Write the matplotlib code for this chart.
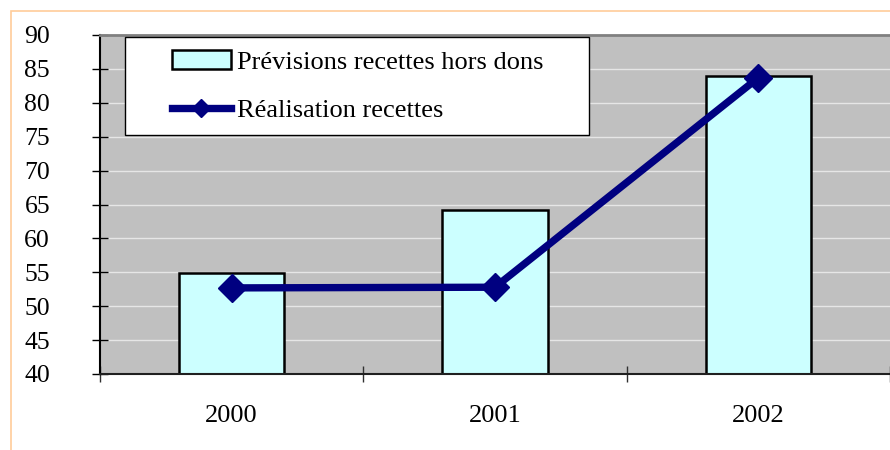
import matplotlib.pyplot as plt
from matplotlib.patches import Rectangle
from matplotlib.lines import Line2D

# Data.
years = ['2000', '2001', '2002']
previsions = [54.9, 64.2, 83.9]
realisation = [52.7, 52.8, 83.7]

plt.rcParams['font.family'] = ['Liberation Serif', 'DejaVu Serif']

fig = plt.figure(figsize=(8.9, 4.5), dpi=100)

# Light orange frame round the chart (runs off the right and bottom).
fig.patches.append(Rectangle((11/890, -0.2), 1.2, 1.2 - 11/450,
                             transform=fig.transFigure, fill=False,
                             edgecolor='#FFCC99', lw=1.2, zorder=0))

ax = fig.add_axes([100/890, 76/450, 790/890, 339/450])
ax.set_facecolor('#C0C0C0')

x = list(range(len(years)))
ax.bar(x, [p - 40 for p in previsions], bottom=40, width=0.4,
       color='#CCFFFF', edgecolor='black', lw=1.8, zorder=2)
ax.plot(x, realisation, '-', color='#000080', lw=5.3, marker='D', ms=14.5,
        zorder=3)

ax.set_ylim(40, 90)
ax.set_xlim(-0.5, -0.5 + 790/267)
ax.set_yticks(range(40, 91, 5))
ax.yaxis.grid(True, color='#E6E6E6', lw=1)
ax.set_axisbelow(True)

ax.set_xticks([-0.5, 0.5, 1.5, 2.5])
ax.set_xticklabels([])
ax.set_xticks(x, minor=True)
ax.set_xticklabels(years, minor=True)
ax.tick_params(axis='x', which='major', direction='inout', length=12,
               width=1, color='#303030')
ax.tick_params(axis='x', which='minor', length=0, pad=22, labelsize=19)
ax.tick_params(axis='y', direction='inout', length=12, width=1, pad=30,
               labelsize=18.5)

ax.spines['left'].set_linewidth(1.5)
ax.spines['bottom'].set_linewidth(1.5)
ax.spines['bottom'].set_color('#202020')
ax.spines['top'].set_color('#808080')
ax.spines['top'].set_linewidth(2)
ax.spines['right'].set_visible(False)

# Legend box.
ax.add_patch(Rectangle((25/790, 239/339), 464/790, 98/339,
                       transform=ax.transAxes, facecolor='white',
                       edgecolor='black', lw=1, zorder=4))
handles = [Rectangle((0, 0), 1, 1, facecolor='#CCFFFF', edgecolor='black', lw=1.8),
           Line2D([], [], color='#000080', lw=5.3, marker='D', ms=9)]
ax.legend(handles, ['Prévisions recettes hors dons', 'Réalisation recettes'],
          loc='upper left', bbox_to_anchor=(72/790, 324/339), frameon=False,
          fontsize=19, handlelength=2.23, handletextpad=0.23, labelspacing=0.95,
          handleheight=0.72, borderpad=0, borderaxespad=0).set_zorder(5)

fig.savefig('out.png', dpi=100)
